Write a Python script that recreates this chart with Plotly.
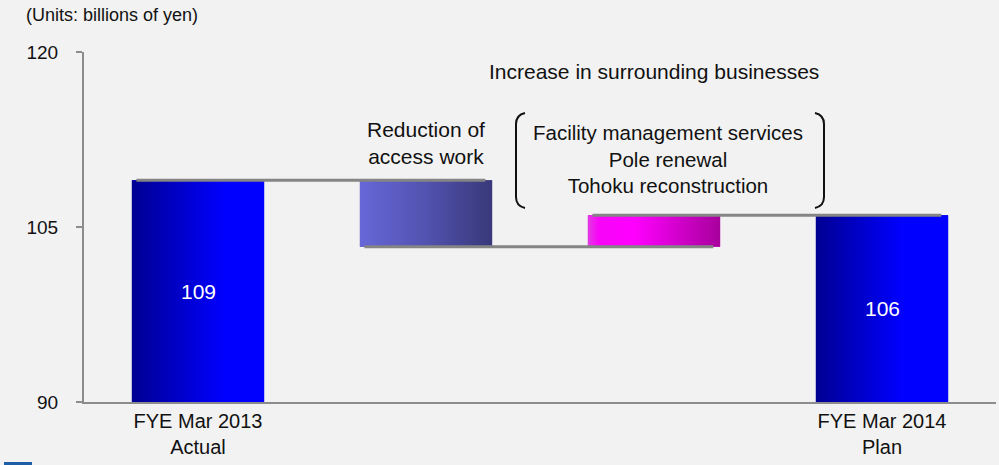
import plotly.graph_objects as go

# ---- data ----
categories = ["FYE Mar 2013 Actual", "Reduction of access work",
              "Increase in surrounding businesses", "FYE Mar 2014 Plan"]
tick_labels = ["FYE Mar 2013<br>Actual", "", "", "FYE Mar 2014<br>Plan"]
start_total = 109
changes = [-5.7, 2.7]
end_total = 106
y_ticks = [90, 105, 120]
value_labels = ["109", "106"]

# ---- styles ----
Y_MIN, Y_MAX = 90, 120
BAR_W = 0.58
FONT = "Arial, Liberation Sans, sans-serif"
BG = "#F2F2F2"
AXIS_C = "#8C8C8C"
grads = [
    [[0, "#000092"], [0.7, "#0000FF"], [1, "#0000FF"]],
    [[0, "#6767D8"], [0.5, "#5252B0"], [1, "#38387A"]],
    [[0, "#E23BE2"], [0.08, "#F805F8"], [0.35, "#FF00FF"], [1, "#A8009C"]],
    [[0, "#000092"], [0.65, "#0000FF"], [1, "#0000FF"]],
]
mid_cols = ["#0000D0", "#5050A8", "#DD00DD", "#0000D0"]

# bar geometry from data
after_cut = start_total + changes[0]
after_inc = after_cut + changes[1]
bases = [0, after_cut, after_cut, 0]
tops = [start_total, start_total, after_inc, end_total]
xs = list(range(len(categories)))

fig = go.Figure()

# plain bars (data marks)
fig.add_trace(go.Bar(
    x=xs, y=[t - b for t, b in zip(tops, bases)], base=bases, width=BAR_W,
    marker=dict(color=mid_cols, line=dict(width=0)),
    hovertext=categories, showlegend=False))

# gradient overlays of the same bars
for i in xs:
    x0, x1 = i - BAR_W / 2, i + BAR_W / 2
    y0, y1 = max(bases[i], Y_MIN - 1), tops[i]
    fig.add_trace(go.Scatter(
        x=[x0, x1, x1, x0, x0], y=[y0, y0, y1, y1, y0],
        mode="lines", fill="toself", line=dict(width=0),
        fillgradient=dict(type="horizontal", colorscale=grads[i]),
        hoverinfo="skip", showlegend=False))

# connector lines: from bar i left edge to bar i+1 right edge at level after bar i
levels = [start_total, after_cut, after_inc]
for i, lv in enumerate(levels):
    fig.add_trace(go.Scatter(
        x=[i - BAR_W / 2 + 0.02, i + 1 + BAR_W / 2 - 0.03], y=[lv, lv],
        mode="lines", line=dict(color="#858585", width=3),
        hoverinfo="skip", showlegend=False))

ANN_SIZE = 21
annotations = []
# value labels inside total bars
for i, lab, tot in [(0, value_labels[0], start_total), (3, value_labels[1], end_total)]:
    annotations.append(dict(x=i, y=(Y_MIN + tot) / 2, text=lab, showarrow=False,
                            yanchor="middle",
                            font=dict(color="white", size=ANN_SIZE, family=FONT)))

annotations += [
    dict(x=1, y=tops[1], yshift=37, yanchor="middle", text="Reduction of<br>access work",
         showarrow=False, font=dict(size=ANN_SIZE, color="#111", family=FONT)),
    dict(x=2, xref="x", y=1.0, yref="paper", yshift=-19, yanchor="middle",
         text="Increase in surrounding businesses", showarrow=False,
         font=dict(size=ANN_SIZE, color="#111", family=FONT)),
    dict(x=2.06, y=110.83, yanchor="middle",
         text="Facility management services<br>Pole renewal<br>Tohoku reconstruction",
         showarrow=False, font=dict(size=20.5, color="#111", family=FONT)),
    dict(x=0, xref="paper", xanchor="left", xshift=-60, y=1, yref="paper",
         yanchor="middle", yshift=37, text="(Units: billions of yen)", showarrow=False,
         font=dict(size=18, color="#111", family=FONT)),
]

L, T, W, H = 84, 52, 912, 350


def px(x):
    return (x - L) / W


def py(y):
    return (T + H - y) / H


def paren(xo, xi):
    return (f"M {px(xo)},{py(113)} Q {px(xi)},{py(115)} {px(xi)},{py(124)} "
            f"L {px(xi)},{py(197)} Q {px(xi)},{py(206)} {px(xo)},{py(208)}")


shapes = [
    dict(type="path", xref="paper", yref="paper", path=paren(525, 516),
         line=dict(color="#111", width=2)),
    dict(type="path", xref="paper", yref="paper", path=paren(815, 824),
         line=dict(color="#111", width=2)),
    dict(type="rect", xref="paper", yref="paper", x0=px(4), x1=px(32),
         y0=py(466), y1=py(462), fillcolor="#1F5FA8", line=dict(width=0)),
]

fig.update_layout(
    width=999, height=465,
    margin=dict(l=L, r=999 - L - W, t=T, b=465 - T - H),
    paper_bgcolor=BG, plot_bgcolor=BG,
    barmode="overlay",
    font=dict(family=FONT, color="#111"),
    xaxis=dict(range=[-0.5, 3.5], tickvals=xs, ticktext=tick_labels,
               showline=True, linecolor=AXIS_C, linewidth=2, ticks="",
               showgrid=False, zeroline=False, fixedrange=True,
               tickfont=dict(size=20, color="#111", family=FONT)),
    yaxis=dict(range=[Y_MIN, Y_MAX], tickvals=y_ticks, showline=True,
               linecolor=AXIS_C, linewidth=2, ticks="outside", ticklen=6,
               tickcolor=AXIS_C, tickwidth=2, ticklabelstandoff=14,
               showgrid=False, zeroline=False, fixedrange=True,
               tickfont=dict(size=19, color="#111", family=FONT)),
    annotations=annotations, shapes=shapes,
)

fig.write_html("out.html")
